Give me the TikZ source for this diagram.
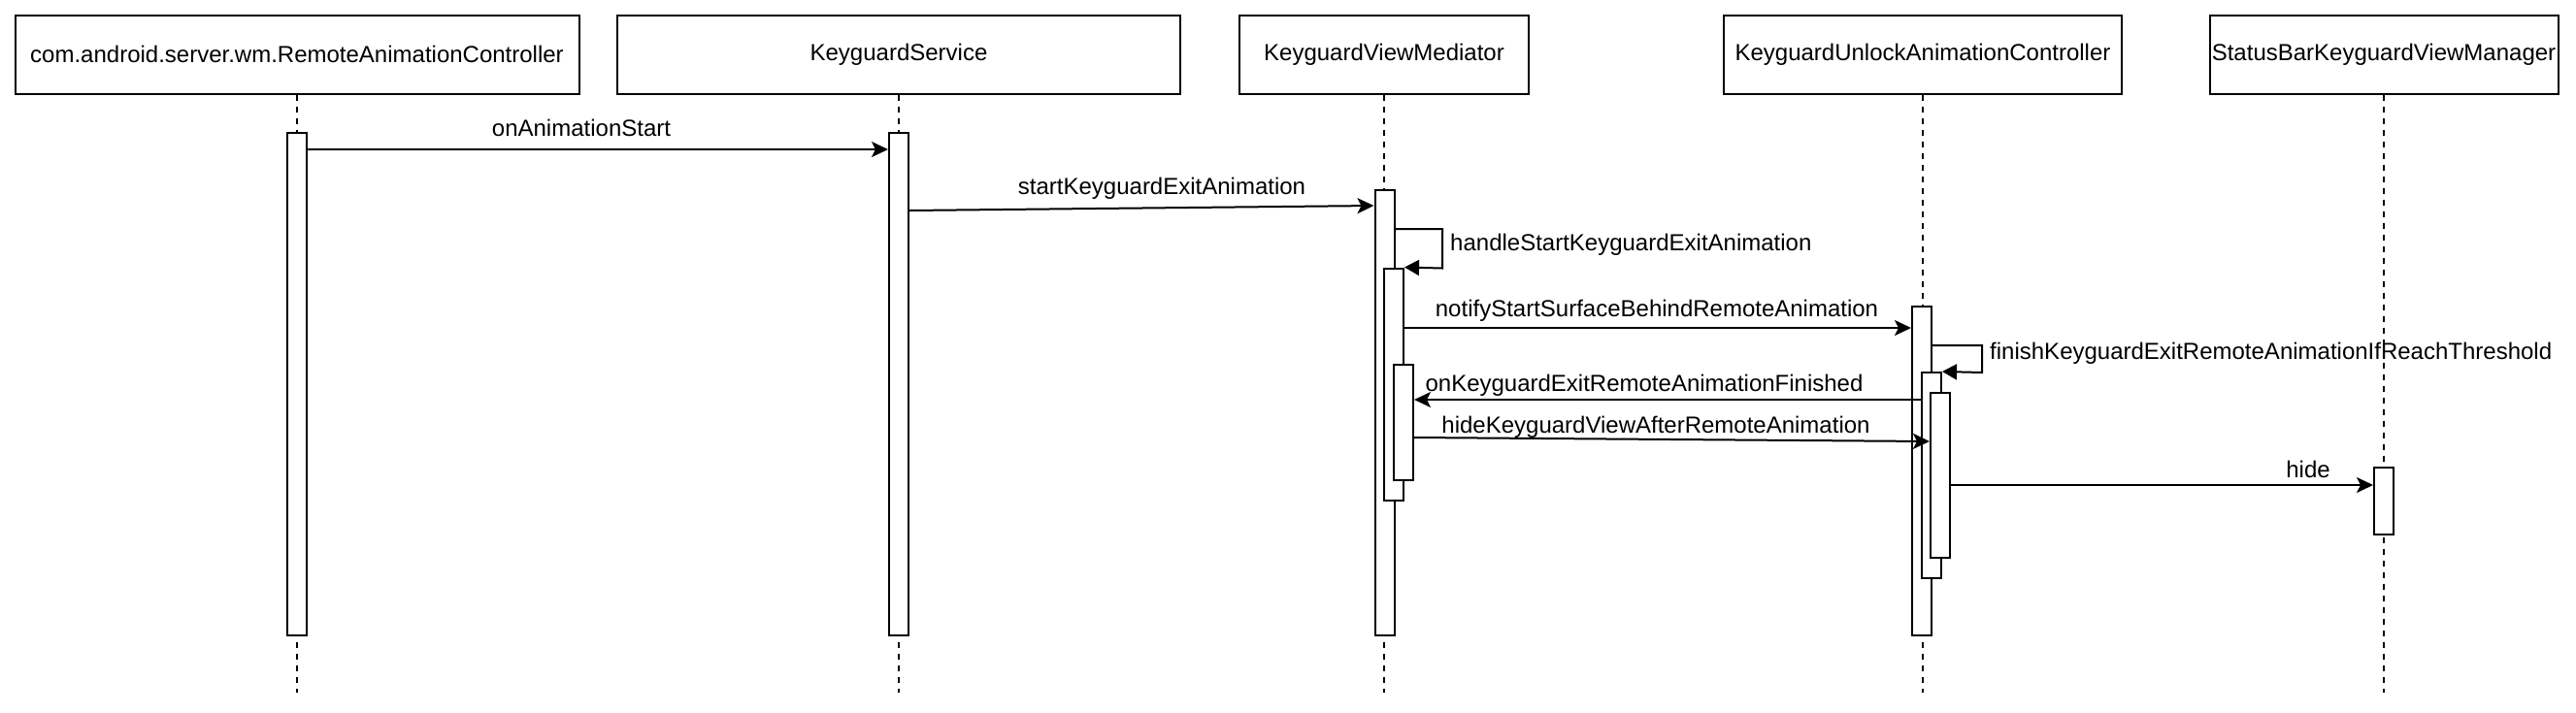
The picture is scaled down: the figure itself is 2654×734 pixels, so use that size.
\documentclass[tikz,border=0pt]{standalone}
\usepackage{fontspec}
\setmainfont{Liberation Sans}
\usetikzlibrary{arrows.meta}
\begin{document}
\begin{tikzpicture}[x=1pt,y=-1pt,
  hdr/.style={draw, line width=2pt, fill=white, minimum height=81pt, inner sep=0pt, font=\fontsize{24}{28}\selectfont},
  act/.style={draw, line width=2pt, fill=white, minimum width=20pt, inner sep=0pt},
  life/.style={line width=2pt, dash pattern=on 6pt off 6pt},
  msg/.style={line width=2pt, -{Stealth[length=17pt, width=16pt, inset=4pt]}},
  selfmsg/.style={line width=2pt, -{Triangle[length=15pt, width=16pt]}},
  lbl/.style={inner sep=0pt, font=\fontsize{24}{28}\selectfont}
]
\useasboundingbox (0,0) rectangle (2654,734);

% headers
\node[hdr, minimum width=581pt] (h1) at (306,56) {com.android.server.wm.RemoteAnimationController};
\node[hdr, minimum width=580pt] (h2) at (926,56) {KeyguardService};
\node[hdr, minimum width=298pt] (h3) at (1426,56) {KeyguardViewMediator};
\node[hdr, minimum width=410pt] (h4) at (1981,56) {KeyguardUnlockAnimationController};
\node[hdr, minimum width=359pt] (h5) at (2456,56) {StatusBarKeyguardViewManager};

% lifeline ends
\coordinate (e1) at (306,714);
\coordinate (e2) at (926,714);
\coordinate (e3) at (1426,714);
\coordinate (e4) at (1981,714);
\coordinate (e5) at (2456,714);
\draw[life] (h1.south) -- (e1);
\draw[life] (h2.south) -- (e2);
\draw[life] (h3.south) -- (e3);
\draw[life] (h4.south) -- (e4);
\draw[life] (h5.south) -- (e5);

% activations
\node[act, minimum height=518pt] (a1) at (306,396) {};
\node[act, minimum height=518pt] (a2) at (926,396) {};
\node[act, minimum height=459pt] (a3) at (1426.5,425.5) {};
\node[act, minimum height=239pt] (a3b) at (1436,396) {};
\node[act, minimum height=119pt] (a3c) at (1446,435.5) {};
\node[act, minimum height=339pt] (a4) at (1980,485.5) {};
\node[act, minimum height=212pt] (a4b) at (1990,490) {};
\node[act, minimum height=170pt] (a4c) at (1999,490) {};
\node[act, minimum height=69pt] (a5) at (2456,516.5) {};

% messages
\draw[msg] (a1.east |- 0,154) -- (a2.west |- 0,154);
\node[lbl] (l1) at (599,132) {onAnimationStart};

\draw[msg] (a2.east |- 0,217) -- (a3.west |- 0,212);
\node[lbl] (l2) at (1197,194) {startKeyguardExitAnimation};

\coordinate (s1a) at (1486,236);
\coordinate (s1b) at (1486,276.5);
\draw[selfmsg] (a3.east |- s1a) -- (s1a) -- (s1b) -- (a3b.north east);
\node[lbl, anchor=west] (l3) at (1494,252) {handleStartKeyguardExitAnimation};

\draw[msg] (a3b.east |- 0,338) -- (a4.west |- 0,338);
\node[lbl] (l4) at (1707,320) {notifyStartSurfaceBehindRemoteAnimation};

\coordinate (s2a) at (2042,356);
\coordinate (s2b) at (2042,384);
\draw[selfmsg] (a4.east |- s2a) -- (s2a) -- (s2b) -- (a4b.north east);
\node[lbl, anchor=west] (l5) at (2050,364) {finishKeyguardExitRemoteAnimationIfReachThreshold};

\draw[msg] (a4b.west |- 0,412) -- (a3c.east |- 0,412);
\node[lbl] (l6) at (1694,397) {onKeyguardExitRemoteAnimationFinished};

\draw[msg] (a3c.east |- 0,451) -- (a4c.west |- 0,455);
\node[lbl] (l7) at (1706,440) {hideKeyguardViewAfterRemoteAnimation};

\draw[msg] (a4c.east |- 0,500) -- (a5.west |- 0,500);
\node[lbl] (l8) at (2378,484) {hide};
\end{tikzpicture}
\end{document}
